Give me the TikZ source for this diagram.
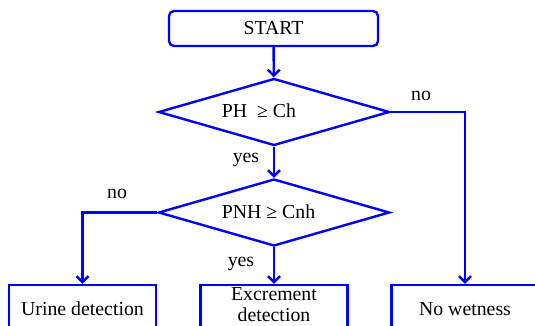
\documentclass[tikz,border=0pt]{standalone}
\usepackage{fontspec}
\setmainfont{Liberation Serif}
\usetikzlibrary{shapes.geometric,arrows.meta}
\begin{document}
\begin{tikzpicture}[x=1pt,y=-1pt,
    every node/.style={font=\fontsize{19.8}{21}\selectfont},
    flowline/.style={draw=blue,line width=2.4pt},
    arrow/.style={flowline,-{Straight Barb[length=6pt,width=12pt]}},
    startbox/.style={draw=blue,line width=2.4pt,rounded corners=5pt,minimum width=209pt,minimum height=35pt},
    decision/.style={diamond,draw=blue,line width=2.4pt,minimum width=231pt,minimum height=67pt,inner sep=0pt},
    outbox/.style={draw=blue,line width=2.4pt,minimum width=147pt,minimum height=48pt,inner sep=2pt,align=center}]
  \useasboundingbox (0,0) rectangle (535,325);
  % start and the two tests
  \node[startbox] (start) at (273.5,28.5) {START};
  \node[decision] (ph) at (274,112) {};
  \node (phtext) at (259,111) {PH~~≥~Ch};
  \node[decision] (pnh) at (274,212.5) {};
  \node (pnhtext) at (268.5,212) {PNH ≥ Cnh};
  % results
  \node[outbox] (urine) at (82.5,309) {Urine detection};
  \node[outbox] (excr) at (274,309) {};
  \node[align=center,inner sep=0pt] (excrtext) at (274,305) {Excrement\\detection};
  \node[outbox] (nowet) at (465,309) {No wetness};
  % branch labels
  \node (phno) at (421,96) {no};
  \node (phyes) at (246,160) {yes};
  \node (pnhno) at (117,194) {no};
  \node (pnhyes) at (241,264) {yes};
  % connectors
  \draw[arrow] (start) -- (ph);
  \draw[arrow] (ph) -- (pnh);
  \draw[arrow] (ph.east) -| (nowet.north);
  \draw[arrow] (pnh.west) -| (urine.north);
  \draw[arrow] (pnh) -- (excr);
\end{tikzpicture}
\end{document}
